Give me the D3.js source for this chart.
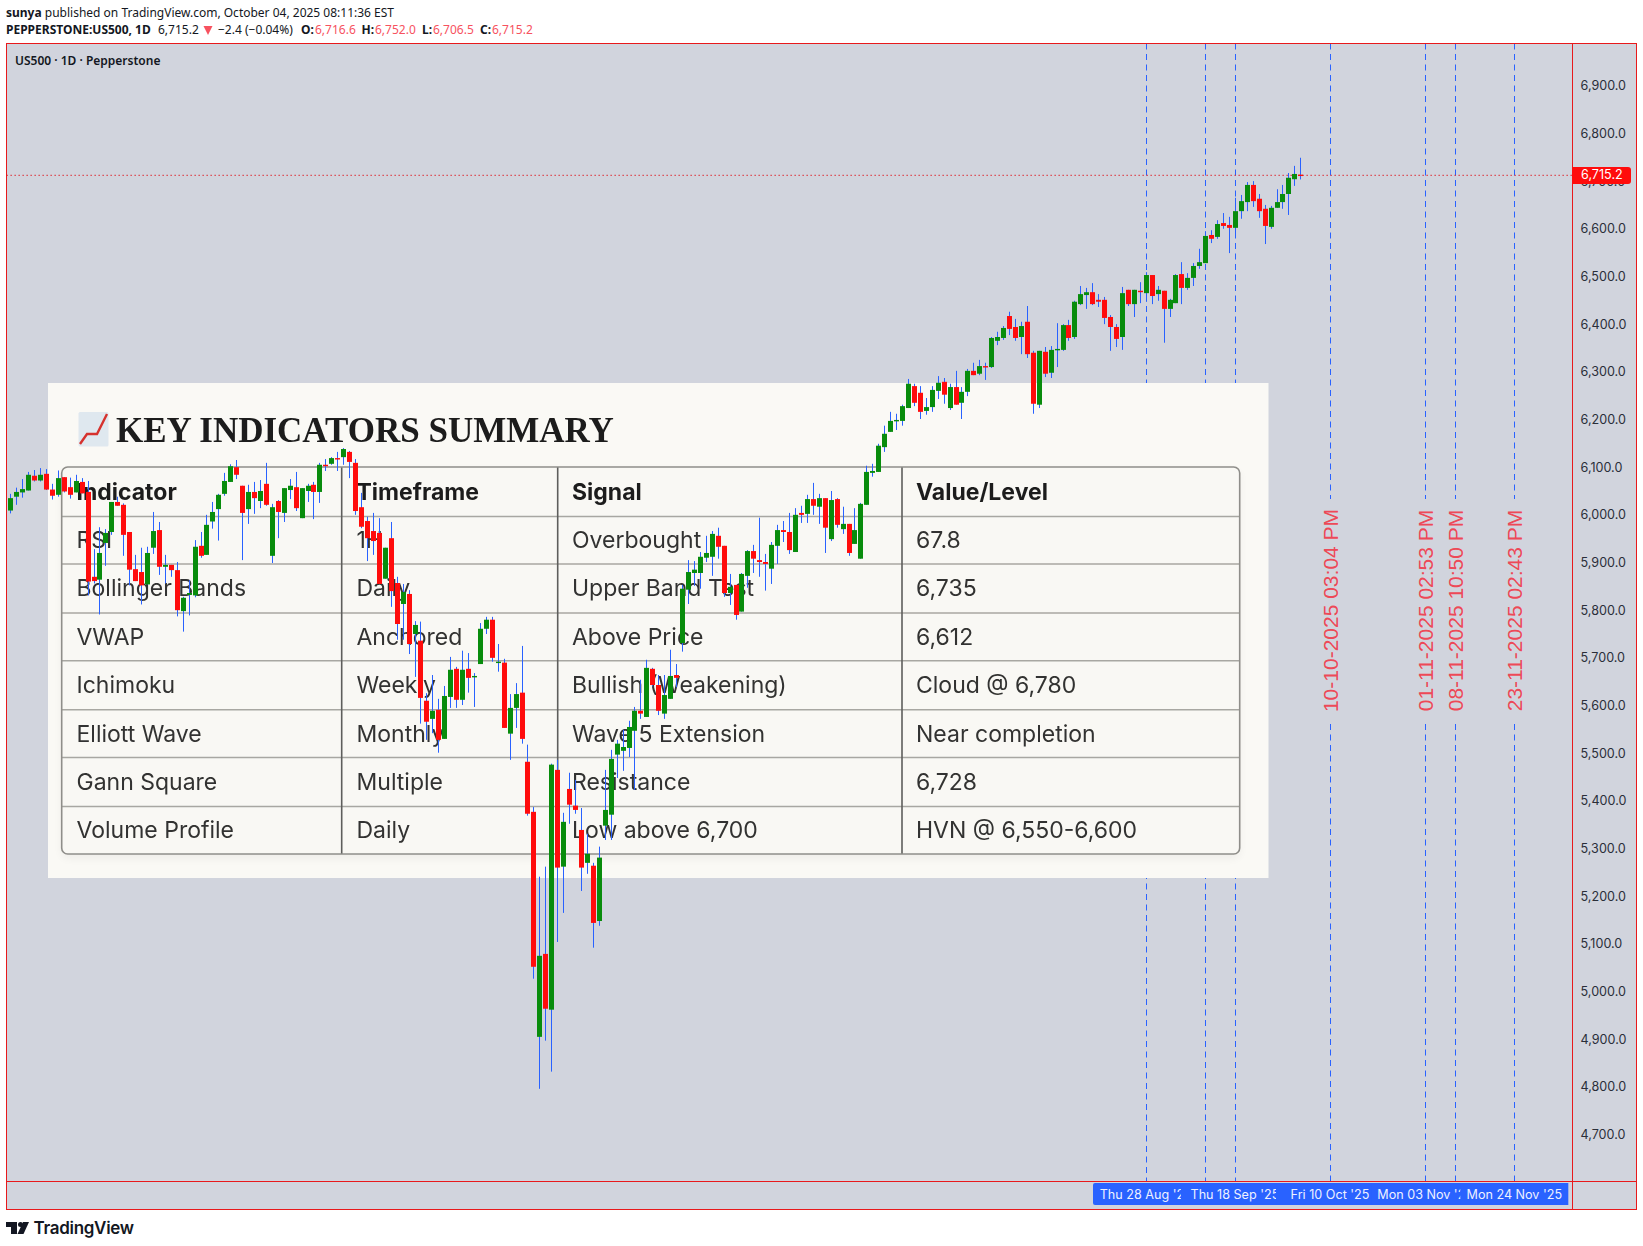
<!DOCTYPE html>
<html>
<head>
<meta charset="utf-8">
<script src="https://d3js.org/d3.v7.min.js"></script>
<style>
    html, body { margin: 0; padding: 0; background: #fff; }
    svg { display: block; }
    .axis path, .axis line { display: none; }
    .axis text { font-family: Inter, sans-serif; font-size: 12.6px; fill: #2a2e39; }
</style>
</head>
<body>
<svg id="chart" width="1643" height="1246"></svg>
<script>
// candles, oldest first: open, high, low, close
var ohlc = [
[6012,6047,6006,6038],[6041,6060,6024,6051],[6050,6078,6039,6057],[6054,6093,6054,6087],[6085,6097,6073,6075],
[6075,6101,6073,6087],[6089,6099,6055,6056],[6056,6068,6035,6043],[6045,6096,6041,6080],[6082,6082,6050,6052],
[6061,6081,6037,6045],[6050,6087,6050,6074],[6072,6080,6048,6048],[6051,6074,5834,5863],[5873,5931,5859,5864],
[5867,5977,5794,5923],[5944,5973,5896,5965],[5967,6030,5961,6030],[6030,6041,6022,6022],[6024,6027,5917,5961],
[5967,5967,5855,5888],[5889,5919,5864,5864],[5883,5934,5815,5855],[5857,5936,5857,5923],[5934,6009,5921,5969],
[5971,5988,5877,5894],[5894,5919,5859,5898],[5898,5898,5873,5887],[5887,5904,5790,5803],[5801,5831,5758,5829],
[5835,5866,5792,5839],[5834,5950,5830,5936],[5938,5967,5913,5917],[5919,6003,5919,5982],[5989,6030,5974,6009],
[6015,6047,5949,6045],[6047,6091,6043,6074],[6072,6109,6072,6105],[6103,6118,6078,6087],[6064,6064,5908,6007],
[6015,6066,5984,6051],[6051,6072,6005,6038],[6032,6076,6017,6053],[6068,6112,6022,6024],[5917,6026,5902,6019],
[6032,6034,5954,6009],[6007,6059,5988,6059],[6055,6078,6036,6064],[6061,6093,6011,6017],[5996,6059,5996,6059],
[6053,6068,6030,6064],[6066,6072,5994,6051],[6051,6112,6028,6108],[6108,6120,6095,6105],[6110,6124,6108,6122],
[6122,6135,6095,6120],[6124,6143,6108,6141],[6135,6137,6080,6114],[6112,6120,6003,6011],[6019,6049,5975,5978],
[5990,5999,5906,5954],[5969,6007,5919,5948],[5965,5996,5858,5858],[5869,5934,5869,5934],[5954,5988,5810,5843],
[5860,5873,5741,5774],[5816,5858,5741,5841],[5837,5845,5711,5732],[5753,5780,5663,5772],[5739,5779,5565,5619],
[5613,5629,5531,5569],[5575,5667,5545,5592],[5594,5617,5504,5531],[5533,5644,5533,5623],[5621,5705,5598,5678],
[5680,5684,5598,5615],[5615,5718,5604,5678],[5680,5713,5630,5661],[5663,5671,5600,5665],[5690,5776,5690,5764],
[5764,5789,5753,5783],[5783,5789,5695,5703],[5693,5732,5674,5695],[5693,5701,5556,5556],[5544,5627,5489,5598],
[5598,5650,5556,5627],[5630,5728,5523,5533],[5485,5521,5372,5376],[5380,5390,5030,5055],[4908,5244,4799,5078],
[5082,5265,4900,4967],[4965,5481,4835,5479],[5468,5489,5107,5263],[5265,5378,5168,5359],[5428,5462,5355,5395],
[5393,5447,5376,5384],[5342,5388,5214,5263],[5273,5334,5250,5292],[5267,5273,5095,5147],[5151,5307,5141,5284],
[5351,5468,5321,5384],[5374,5510,5321,5491],[5500,5531,5451,5523],[5508,5552,5466,5516],[5514,5571,5495,5558],
[5550,5600,5426,5592],[5592,5657,5575,5586],[5579,5699,5579,5682],[5680,5682,5643,5646],[5646,5667,5583,5592],
[5586,5667,5575,5625],[5617,5720,5617,5665],[5667,5690,5641,5661],[5734,5856,5716,5848],[5846,5908,5816,5883],
[5881,5906,5854,5888],[5881,5925,5848,5915],[5913,5959,5904,5923],[5915,5969,5875,5963],[5959,5976,5911,5936],
[5938,5938,5831,5839],[5839,5879,5814,5852],[5856,5856,5783,5793],[5800,5881,5800,5879],[5875,5929,5850,5927],
[5927,5940,5881,5911],[5908,5997,5873,5904],[5904,5921,5844,5900],[5890,5946,5858,5940],[5938,5982,5900,5971],
[5971,5990,5946,5967],[5967,6007,5921,5929],[5925,6017,5925,6003],[6007,6022,5986,6003],[6005,6045,5986,6036],
[6036,6070,6003,6022],[6020,6047,5984,6038],[6038,6038,5923,5976],[5952,6053,5948,6034],[6036,6038,5976,5982],
[5973,6020,5963,5984],[5984,5984,5917,5923],[5942,6017,5942,5971],[5911,6028,5911,6026],[6024,6106,6024,6093],
[6091,6110,6083,6095],[6093,6152,6093,6148],[6145,6190,6135,6173],[6177,6219,6177,6200],[6200,6215,6181,6202],
[6200,6234,6190,6231],[6227,6288,6227,6278],[6273,6278,6231,6238],[6259,6273,6204,6219],[6221,6248,6213,6229],
[6229,6273,6219,6265],[6263,6294,6246,6280],[6282,6290,6236,6255],[6227,6278,6223,6271],[6271,6305,6234,6234],
[6238,6271,6204,6261],[6261,6309,6252,6305],[6305,6322,6296,6296],[6299,6328,6296,6315],[6315,6322,6286,6313],
[6313,6376,6311,6374],[6368,6387,6359,6376],[6374,6399,6370,6395],[6420,6429,6380,6393],[6397,6414,6368,6374],
[6376,6408,6340,6399],[6408,6441,6332,6340],[6343,6347,6215,6236],[6234,6347,6227,6347],[6345,6355,6292,6299],
[6301,6357,6290,6349],[6349,6405,6313,6351],[6349,6403,6347,6401],[6401,6412,6368,6374],[6376,6452,6372,6450],
[6445,6483,6443,6466],[6464,6479,6435,6470],[6470,6489,6443,6445],[6454,6466,6439,6450],[6454,6460,6403,6416],
[6418,6422,6347,6397],[6397,6403,6355,6372],[6376,6481,6349,6468],[6475,6475,6441,6445],[6445,6475,6418,6475],
[6473,6491,6447,6470],[6468,6512,6450,6506],[6506,6506,6445,6462],[6466,6483,6452,6475],[6473,6473,6364,6435],
[6435,6456,6418,6454],[6447,6508,6447,6506],[6508,6533,6445,6479],[6479,6510,6475,6500],[6500,6531,6483,6525],
[6525,6561,6519,6533],[6531,6598,6531,6588],[6590,6600,6573,6582],[6586,6621,6582,6613],[6615,6636,6603,6609],
[6611,6628,6552,6605],[6605,6668,6588,6640],[6640,6674,6624,6661],[6659,6701,6640,6695],[6695,6703,6649,6661],
[6666,6676,6626,6640],[6645,6653,6571,6609],[6607,6651,6603,6647],[6647,6686,6647,6659],[6659,6695,6645,6676],
[6676,6720,6632,6710],[6707,6735,6693,6718],[6716.6,6752,6706.5,6715.2]
];

var lastPrice = 6715.2;
var priceTicks = [4700,4800,4900,5000,5100,5200,5300,5400,5500,5600,5700,5800,5900,6000,6100,6200,6300,6400,6500,6600,6700,6800,6900];

// bar index of each month label on the time axis
var monthBars = [1,22,44,64,85,106,128,149,172];
var monthNames = ["Dec","2025","Feb","Mar","Apr","May","Jun","Jul","Aug"];

// vertical time markers, bar index (future bars included)
var markerBars = [191,201,206,222,238,243,253];
var markerStamps = ["","","","10-10-2025 03:04 PM","01-11-2025 02:53 PM","08-11-2025 10:50 PM","23-11-2025 02:43 PM"];

var dateTagBars = [191,206,222,238,253];
var dateTags = ["Thu 28 Aug '25","Thu 18 Sep '25","Fri 10 Oct '25","Mon 03 Nov '25","Mon 24 Nov '25"];

var tableHead = ["Indicator","Timeframe","Signal","Value/Level"];
var tableRows = [
    ["RSI","1H","Overbought","67.8"],
    ["Bollinger Bands","Daily","Upper Band Test","6,735"],
    ["VWAP","Anchored","Above Price","6,612"],
    ["Ichimoku","Weekly","Bullish (Weakening)","Cloud @ 6,780"],
    ["Elliott Wave","Monthly","Wave 5 Extension","Near completion"],
    ["Gann Square","Multiple","Resistance","6,728"],
    ["Volume Profile","Daily","Low above 6,700","HVN @ 6,550-6,600"]
];

var paneLeft = 6.5, paneRight = 1572.5, paneTop = 43.5, paneBottom = 1181.5, frameRight = 1636.5, frameBottom = 1209.5;
var bg = "#d1d4dd", frameRed = "#e8191c", wickBlue = "#2962ff", upGreen = "#088c0c", downRed = "#ff0c0c";

var svg = d3.select("#chart");

var x = d3.scaleLinear().domain([0, 217]).range([10.3, 1300.3]);
var y = d3.scaleLinear().domain([lastPrice, 6900]).range([175.3, 87.2]);

svg.append("rect").attr("x", paneLeft).attr("y", paneTop)
    .attr("width", frameRight - paneLeft).attr("height", frameBottom - paneTop).attr("fill", bg);

// axes
svg.append("g").attr("class", "axis").attr("transform", "translate(" + (paneRight + 8) + ",-1.5)")
    .call(d3.axisRight(y).tickValues(priceTicks).tickSize(0).tickPadding(0).tickFormat(d3.format(",.1f")));

var clip = svg.append("defs");
clip.append("clipPath").attr("id", "timeClip").append("rect")
    .attr("x", paneLeft).attr("y", paneBottom).attr("width", paneRight - paneLeft).attr("height", frameBottom - paneBottom);
var softText = clip.append("filter").attr("id", "soft");
softText.append("feGaussianBlur").attr("stdDeviation", 0.45);
var tableShadow = clip.append("filter").attr("id", "shadow").attr("x", "-5%").attr("y", "-5%").attr("width", "110%").attr("height", "110%");
tableShadow.append("feGaussianBlur").attr("stdDeviation", 5);

var timeAxis = svg.append("g").attr("class", "axis").attr("clip-path", "url(#timeClip)")
    .attr("transform", "translate(0," + (paneBottom + 2) + ")")
    .call(d3.axisBottom(x).tickValues(monthBars).tickSize(0).tickPadding(4)
        .tickFormat(function(d, i) { return monthNames[i]; }));
timeAxis.selectAll("text").filter(function(d, i) { return monthNames[i] == "2025"; })
    .style("font-weight", 700).style("letter-spacing", "0.6px");

// dashed markers, broken where the stamp sits
var dash = "6,4.5";
markerBars.forEach(function(bar, i) {
    var mx = Math.round(x(bar)) + 0.5;
    if (markerStamps[i]) {
        svg.append("line").attr("x1", mx).attr("x2", mx).attr("y1", paneTop).attr("y2", 499)
            .attr("stroke", wickBlue).attr("stroke-dasharray", dash);
        svg.append("line").attr("x1", mx).attr("x2", mx).attr("y1", 724).attr("y2", paneBottom)
            .attr("stroke", wickBlue).attr("stroke-dasharray", dash);
        svg.append("text").attr("transform", "translate(" + (mx + 7.5) + ",610.5) rotate(-90)")
            .attr("text-anchor", "middle").attr("fill", "#f23645").attr("fill-opacity", 0.9)
            .style("font-family", "'Liberation Sans', sans-serif").style("font-size", "21px")
            .text(markerStamps[i]);
    } else {
        svg.append("line").attr("x1", mx).attr("x2", mx).attr("y1", paneTop).attr("y2", paneBottom)
            .attr("stroke", wickBlue).attr("stroke-dasharray", dash);
    }
});

// last price line
svg.append("line").attr("x1", paneLeft).attr("x2", paneRight).attr("y1", y(lastPrice)).attr("y2", y(lastPrice))
    .attr("stroke", "#e01018").attr("stroke-dasharray", "1.3,2.7");

// summary panel sits under the candles
var panel = svg.append("g");
panel.append("rect").attr("x", 48).attr("y", 383).attr("width", 1220.5).attr("height", 495).attr("fill", "#faf9f5");

var colX = [61.7, 341.7, 557.7, 902, 1239.7];
var rowY = [467, 516.5, 564, 613, 660.7, 709.7, 757.5, 806.5, 854];
var textX = [76.5, 356.5, 572, 916];
var textY = [491.5, 540, 588, 637, 684.5, 733.5, 782, 830];

panel.append("rect").attr("x", colX[0]).attr("y", rowY[0] + 4).attr("width", colX[4] - colX[0]).attr("height", rowY[8] - rowY[0])
    .attr("rx", 6).attr("fill", "#000").attr("opacity", 0.05).attr("filter", "url(#shadow)");
panel.append("rect").attr("x", colX[0]).attr("y", rowY[0]).attr("width", colX[4] - colX[0]).attr("height", rowY[8] - rowY[0])
    .attr("rx", 6).attr("fill", "#f9f8f4");
panel.selectAll(".rowLine").data(rowY.slice(1, 8)).enter().append("line")
    .attr("x1", colX[0]).attr("x2", colX[4]).attr("y1", function(d) { return d; }).attr("y2", function(d) { return d; })
    .attr("stroke", "#a8a7a2").attr("stroke-width", 1.6);
panel.selectAll(".colLine").data(colX.slice(1, 4)).enter().append("line")
    .attr("x1", function(d) { return d; }).attr("x2", function(d) { return d; }).attr("y1", rowY[0]).attr("y2", rowY[8])
    .attr("stroke", "#5e5e5c").attr("stroke-width", 1.6);
panel.append("rect").attr("x", colX[0]).attr("y", rowY[0]).attr("width", colX[4] - colX[0]).attr("height", rowY[8] - rowY[0])
    .attr("rx", 6).attr("fill", "none").attr("stroke", "#8f8e8a").attr("stroke-width", 1.6);

var tableText = panel.append("g").attr("filter", "url(#soft)");
[tableHead].concat(tableRows).forEach(function(row, r) {
    tableText.selectAll(".r" + r).data(row).enter().append("text")
        .attr("x", function(d, c) { return textX[c]; })
        .attr("y", textY[r]).attr("dy", "0.36em")
        .attr("fill", r == 0 ? "#1c1c1c" : "#333331")
        .style("font-family", "Inter, sans-serif").style("font-size", "23px")
        .style("font-weight", r == 0 ? 700 : 400)
        .text(function(d) { return d; });
});

// chart emoji in the panel title
var icon = panel.append("g").attr("filter", "url(#soft)");
icon.append("rect").attr("x", 78.5).attr("y", 412).attr("width", 30).attr("height", 34.5).attr("rx", 1.5).attr("fill", "#dfe8ef");
icon.append("path").attr("d", "M80,444 L87,434 L97,434 L107,414").attr("fill", "none").attr("stroke", "#d6332f").attr("stroke-width", 2.4);
panel.append("text").attr("x", 116).attr("y", 442).attr("filter", "url(#soft)").attr("fill", "#1a1a1a")
    .style("font-family", "'Liberation Serif', serif").style("font-size", "35px").style("font-weight", 700)
    .text("KEY INDICATORS SUMMARY");

// candles
var candles = svg.append("g");
candles.selectAll(".wick").data(ohlc).enter().append("line")
    .attr("x1", function(d, i) { return Math.round(x(i)) + 0.5; })
    .attr("x2", function(d, i) { return Math.round(x(i)) + 0.5; })
    .attr("y1", function(d) { return y(d[1]); })
    .attr("y2", function(d) { return y(d[2]); })
    .attr("stroke", wickBlue).attr("stroke-width", 1);
candles.selectAll(".body").data(ohlc).enter().append("rect")
    .attr("x", function(d, i) { return Math.round(x(i)) + 0.5 - 2.5; })
    .attr("width", 5)
    .attr("y", function(d) { return y(Math.max(d[0], d[3])); })
    .attr("height", function(d) { return Math.max(1.4, Math.abs(y(d[0]) - y(d[3]))); })
    .attr("fill", function(d) { return d[3] >= d[0] ? upGreen : downRed; });

// date tags on the time axis, each one covers the tail of the one before
var tagGroup = svg.append("g");
dateTags.forEach(function(tag, i) {
    var cx = x(dateTagBars[i]);
    tagGroup.append("rect").attr("x", i == 0 ? 1093 : cx - 54).attr("y", paneBottom + 1.5)
        .attr("width", i == 0 ? 108 : 108).attr("height", 22)
        .attr("rx", i == 0 ? 2 : 0).attr("fill", wickBlue);
    tagGroup.append("text").attr("x", cx).attr("y", paneBottom + 13).attr("dy", "0.35em").attr("text-anchor", "middle")
        .attr("fill", "#eef1ff").style("font-family", "Inter, sans-serif").style("font-size", "12.6px")
        .text(tag);
});

// frame
var frame = svg.append("g").attr("fill", "none").attr("stroke", frameRed).attr("stroke-width", 1);
frame.append("rect").attr("x", paneLeft).attr("y", paneTop).attr("width", frameRight - paneLeft).attr("height", frameBottom - paneTop);
frame.append("line").attr("x1", paneRight).attr("x2", paneRight).attr("y1", paneTop).attr("y2", frameBottom);
frame.append("line").attr("x1", paneLeft).attr("x2", frameRight).attr("y1", paneBottom).attr("y2", paneBottom);

// price tag
svg.append("path").attr("d", "M1572,167 H1628 a3,3 0 0 1 3,3 V181 a3,3 0 0 1 -3,3 H1572 Z").attr("fill", "#ff0c0c");
svg.append("text").attr("x", paneRight + 8.5).attr("y", 175).attr("dy", "0.35em").attr("fill", "#fff")
    .style("font-family", "Inter, sans-serif").style("font-size", "12.6px").text(d3.format(",.1f")(lastPrice));

// header lines
var head = svg.append("g").style("font-family", "'Noto Sans', sans-serif").style("font-size", "12px").attr("fill", "#131722");
var line1 = head.append("text").attr("x", 6).attr("y", 17);
line1.append("tspan").style("font-weight", 700).text("sunya");
line1.append("tspan").text(" published on TradingView.com, October 04, 2025 08:11:36 EST");

var headBits = [
    ["PEPPERSTONE:US500, 1D", 6, 700, "#131722"], ["6,715.2", 158, 400, "#131722"],
    ["−2.4 (−0.04%)", 218, 400, "#131722"],
    ["O:", 301, 700, "#131722"], ["6,716.6", 315, 400, "#f7525f"],
    ["H:", 361.5, 700, "#131722"], ["6,752.0", 375, 400, "#f7525f"],
    ["L:", 422, 700, "#131722"], ["6,706.5", 433, 400, "#f7525f"],
    ["C:", 480, 700, "#131722"], ["6,715.2", 492, 400, "#f7525f"]
];
head.selectAll(".bit").data(headBits).enter().append("text")
    .attr("x", function(d) { return d[1]; }).attr("y", 34)
    .style("font-weight", function(d) { return d[2]; }).attr("fill", function(d) { return d[3]; })
    .text(function(d) { return d[0]; });
head.append("path").attr("d", "M203.5,26 H212.5 L208,35 Z").attr("fill", "#f7525f");

svg.append("text").attr("x", 15).attr("y", 65).attr("fill", "#131722")
    .style("font-family", "'Noto Sans', sans-serif").style("font-size", "12px").style("font-weight", 600)
    .text("US500 · 1D · Pepperstone");

// TradingView mark
var logo = svg.append("g").attr("fill", "#131722");
logo.append("path").attr("d", "M6,1222 H17 V1234 H11 V1227 H6 Z");
logo.append("circle").attr("cx", 20.5).attr("cy", 1224.5).attr("r", 2.5);
logo.append("path").attr("d", "M23,1222 H29 L23.5,1234 H17.5 Z");
logo.append("text").attr("x", 33.5).attr("y", 1233.5)
    .style("font-family", "Inter, sans-serif").style("font-size", "17px").style("font-weight", 600)
    .style("letter-spacing", "-0.3px").text("TradingView");
</script>
</body>
</html>
